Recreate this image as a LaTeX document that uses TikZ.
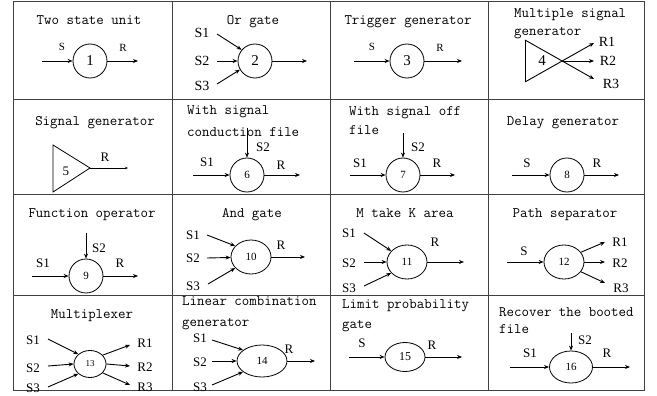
\documentclass[tikz,border=0pt]{standalone}
\usepackage{fontspec}
\setmainfont{Liberation Serif}
\usetikzlibrary{arrows.meta,shapes.geometric}
\tikzset{
  cell/.style    = {line width=1pt, black!75},
  ttl/.style     = {font=\ttfamily\fontsize{14.5}{16}\selectfont, inner sep=0pt,
                    text height=9pt, text depth=3pt},
  lbl/.style     = {font=\fontsize{13}{15}\selectfont, inner sep=0pt},
  lblsmall/.style= {font=\fontsize{11}{13}\selectfont},
  lblbig/.style  = {font=\fontsize{14}{16}\selectfont},
  numbig/.style  = {font=\fontsize{15}{15}\selectfont},
  unit/.style    = {circle, draw, line width=0.8pt, minimum size=34pt, inner sep=0pt,
                    font=\fontsize{11}{13}\selectfont},
  ovl/.style     = {ellipse, draw, line width=0.8pt, minimum width=40pt, minimum height=34pt,
                    inner sep=0pt, font=\fontsize{11}{13}\selectfont},
  wire/.style    = {line width=0.8pt},
  sig/.style     = {-{Stealth[length=5pt,width=4pt]}, line width=0.9pt},
  weak/.style    = {-{Stealth[length=3pt,width=2.5pt]}, line width=0.5pt},
}

\begin{document}
\begin{tikzpicture}[x=1pt,y=-1pt]
  \useasboundingbox (0,0) rectangle (657,396);
  % table
  \draw[cell] (13,2) rectangle (644,390)
    (172,2) -- (172,390) (330,2) -- (330,390) (488,2) -- (488,390)
    (13,100) -- (644,100) (13,194) -- (644,194) (13,295) -- (644,295);

  % row 1
  \node[ttl] (t1) at (89,22) {Two state unit};
  \node[unit,numbig] (u1) at (90,61) {1};
  \coordinate (i1) at (42,61);
  \coordinate (o1) at (138,61);
  \draw[sig] (i1) -- (u1);
  \draw[sig] (u1) -- (o1);
  \node[lbl,lblsmall] (ls1) at (62,47) {S};
  \node[lbl,lblsmall] (lr1) at (123,48) {R};

  \node[ttl] (t2) at (253,22) {Or gate};
  \node[unit,numbig] (u2) at (255,61) {2};
  \node[lbl,lblbig] (ls21) at (202,33) {S1};
  \node[lbl,lblbig] (ls22) at (202,61) {S2};
  \node[lbl,lblbig] (ls23) at (202,86) {S3};
  \coordinate (i21) at (217,34);
  \coordinate (i22) at (217,61);
  \coordinate (i23) at (217,84);
  \coordinate (o2) at (307,61);
  \draw[sig] (i21) -- (u2.140);
  \draw[sig] (i22) -- (u2);
  \draw[sig] (i23) -- (u2.210);
  \draw[sig] (u2) -- (o2);

  \node[ttl] (t3) at (408,22) {Trigger generator};
  \node[unit,numbig] (u3) at (407,61) {3};
  \coordinate (i3) at (354,61);
  \coordinate (o3) at (462,61);
  \draw[sig] (i3) -- (u3);
  \draw[sig] (u3) -- (o3);
  \node[lbl,lblsmall] (ls3) at (372,47) {S};
  \node[lbl,lblsmall] (lr3) at (440,48) {R};

  \node[ttl,anchor=west] (t4a) at (514,15) {Multiple signal};
  \node[ttl,anchor=west] (t4b) at (514,33) {generator};
  \coordinate (g4a) at (525,40);
  \coordinate (g4b) at (525,82);
  \coordinate (g4c) at (562,61);
  \coordinate (e41) at (594,43);
  \coordinate (e42) at (594,61);
  \coordinate (e43) at (594,79);
  \draw[wire] (g4a) -- (g4b);
  \draw[sig] (g4a) -- (e43);
  \draw[sig] (g4b) -- (e41);
  \draw[sig] (g4c) -- (e42);
  \node[lbl,numbig] (n4) at (542,61) {4};
  \node[lbl,lblbig] (lr41) at (607,42) {R1};
  \node[lbl,lblbig] (lr42) at (608,61) {R2};
  \node[lbl,lblbig] (lr43) at (611,84) {R3};

  % row 2
  \node[ttl] (t5) at (95,123) {Signal generator};
  \coordinate (g5a) at (53,145);
  \coordinate (g5b) at (53,192);
  \coordinate (g5c) at (90,168);
  \draw[wire] (g5a) -- (g5b) -- (g5c) -- cycle;
  \node[lbl] (n5) at (66,171) {5};
  \coordinate (o5) at (128,168);
  \draw[weak] (g5c) -- (o5);
  \node[lbl] (lr5) at (105,157) {R};

  \node[ttl,anchor=west] (t6a) at (187,112) {With signal};
  \node[ttl,anchor=west] (t6b) at (187,133) {conduction file};
  \node[unit] (u6) at (247,175) {6};
  \coordinate (i6) at (193,175);
  \coordinate (j6) at (247,128);
  \coordinate (o6) at (300,175);
  \draw[sig] (i6) -- (u6);
  \draw[sig] (j6) -- (u6);
  \draw[sig] (u6) -- (o6);
  \node[lbl] (ls61) at (207,162) {S1};
  \node[lbl] (ls62) at (263,147) {S2};
  \node[lbl] (lr6) at (281,165) {R};

  \node[ttl,anchor=west] (t7a) at (349,113) {With signal off};
  \node[ttl,anchor=west] (t7b) at (349,132) {file};
  \node[unit] (u7) at (403,175) {7};
  \coordinate (i7) at (350,175);
  \coordinate (j7) at (403,133);
  \coordinate (o7) at (455,175);
  \draw[sig] (i7) -- (u7);
  \draw[sig] (j7) -- (u7);
  \draw[sig] (u7) -- (o7);
  \node[lbl] (ls71) at (360,163) {S1};
  \node[lbl] (ls72) at (418,147) {S2};
  \node[lbl] (lr7) at (437,163) {R};

  \node[ttl] (t8) at (563,122) {Delay generator};
  \node[unit] (u8) at (567,175) {8};
  \coordinate (i8) at (512,175);
  \coordinate (o8) at (619,175);
  \draw[sig] (i8) -- (u8);
  \draw[sig] (u8) -- (o8);
  \node[lbl] (ls8) at (527,163) {S};
  \node[lbl] (lr8) at (597,163) {R};

  % row 3
  \node[ttl] (t9) at (92,215) {Function operator};
  \node[unit] (u9) at (86,276) {9};
  \coordinate (i9) at (32,276);
  \coordinate (j9) at (86,233);
  \coordinate (o9) at (138,276);
  \draw[sig] (i9) -- (u9);
  \draw[sig] (j9) -- (u9);
  \draw[sig] (u9) -- (o9);
  \node[lbl] (ls91) at (43,263) {S1};
  \node[lbl] (ls92) at (99,248) {S2};
  \node[lbl] (lr9) at (120,263) {R};

  \node[ttl] (t10) at (252,215) {And gate};
  \node[ovl] (u10) at (251,257) {10};
  \node[lbl] (ls101) at (193,235) {S1};
  \node[lbl] (ls102) at (193,258) {S2};
  \node[lbl] (ls103) at (193,286) {S3};
  \coordinate (i101) at (207,235);
  \coordinate (i102) at (207,258);
  \coordinate (i103) at (208,284);
  \coordinate (o10) at (305,257);
  \draw[sig] (i101) -- (u10.145);
  \draw[sig] (i102) -- (u10);
  \draw[sig] (i103) -- (u10.215);
  \draw[sig] (u10) -- (o10);
  \node[lbl] (lr10) at (281,245) {R};

  \node[ttl] (t11) at (405,215) {M take K area};
  \node[ovl] (u11) at (407,262) {11};
  \node[lbl] (ls111) at (349,233) {S1};
  \node[lbl] (ls112) at (349,263) {S2};
  \node[lbl] (ls113) at (349,288) {S3};
  \coordinate (i111) at (364,233);
  \coordinate (i112) at (364,262);
  \coordinate (i113) at (364,286);
  \coordinate (o11) at (464,262);
  \draw[sig] (i111) -- (u11.145);
  \draw[sig] (i112) -- (u11);
  \draw[sig] (i113) -- (u11.215);
  \draw[sig] (u11) -- (o11);
  \node[lbl] (lr11) at (435,242) {R};

  \node[ttl] (t12) at (565,215) {Path separator};
  \node[ovl] (u12) at (564,262) {12};
  \coordinate (i12) at (507,262);
  \coordinate (o121) at (605,242);
  \coordinate (o122) at (605,262);
  \coordinate (o123) at (605,283);
  \draw[sig] (i12) -- (u12);
  \draw[sig] (u12.30) -- (o121);
  \draw[sig] (u12) -- (o122);
  \draw[sig] (u12.-30) -- (o123);
  \node[lbl] (ls12) at (524,251) {S};
  \node[lbl] (lr121) at (620,242) {R1};
  \node[lbl] (lr122) at (620,263) {R2};
  \node[lbl] (lr123) at (621,288) {R3};

  % row 4
  \node[ttl] (t13) at (92,315) {Multiplexer};
  \node[ovl,minimum width=32pt,minimum height=27pt,font=\fontsize{9}{11}\selectfont]
    (u13) at (90,364) {13};
  \node[lbl] (ls131) at (33,340) {S1};
  \node[lbl] (ls132) at (33,368) {S2};
  \node[lbl] (ls133) at (33,388) {S3};
  \coordinate (i131) at (48,339);
  \coordinate (i132) at (48,366);
  \coordinate (i133) at (48,387);
  \coordinate (o131) at (130,345);
  \coordinate (o132) at (130,366);
  \coordinate (o133) at (130,385);
  \draw[sig] (i131) -- (u13.140);
  \draw[sig] (i132) -- (u13.west);
  \draw[sig] (i133) -- (u13.220);
  \draw[sig] (u13.35) -- (o131);
  \draw[sig] (u13.east) -- (o132);
  \draw[sig] (u13.-35) -- (o133);
  \node[lbl] (lr131) at (145,343) {R1};
  \node[lbl] (lr132) at (145,367) {R2};
  \node[lbl] (lr133) at (145,387) {R3};

  \node[ttl,anchor=west] (t14a) at (182,302) {Linear combination};
  \node[ttl,anchor=west] (t14b) at (182,323) {generator};
  \node[ovl,minimum width=50pt,minimum height=32pt] (u14) at (262,361) {14};
  \node[lbl] (ls141) at (200,338) {S1};
  \node[lbl] (ls142) at (200,362) {S2};
  \node[lbl] (ls143) at (200,387) {S3};
  \coordinate (i141) at (212,340);
  \coordinate (i142) at (212,361);
  \coordinate (i143) at (212,385);
  \coordinate (o14) at (315,361);
  \draw[sig] (i141) -- (u14.150);
  \draw[sig] (i142) -- (u14);
  \draw[sig] (i143) -- (u14.210);
  \draw[sig] (u14) -- (o14);
  \node[lbl] (lr14) at (289,349) {R};

  \node[ttl,anchor=west] (t15a) at (342,305) {Limit probability};
  \node[ttl,anchor=west] (t15b) at (342,325) {gate};
  \node[ovl,minimum width=40pt,minimum height=29pt,font=\fontsize{12}{14}\selectfont]
    (u15) at (405,357) {15};
  \coordinate (i15) at (349,357);
  \coordinate (o15) at (462,357);
  \draw[sig] (i15) -- (u15);
  \draw[sig] (u15) -- (o15);
  \node[lbl] (ls15) at (362,343) {S};
  \node[lbl] (lr15) at (432,345) {R};

  \node[ttl,anchor=west] (t16a) at (499,313) {Recover the booted};
  \node[ttl,anchor=west] (t16b) at (499,330) {file};
  \node[ovl,minimum width=43pt,minimum height=32pt] (u16) at (571,367) {16};
  \coordinate (i16) at (510,367);
  \coordinate (j16) at (571,333);
  \coordinate (o16) at (630,367);
  \draw[sig] (i16) -- (u16);
  \draw[sig] (j16) -- (u16);
  \draw[sig] (u16) -- (o16);
  \node[lbl] (ls161) at (530,353) {S1};
  \node[lbl] (ls162) at (585,340) {S2};
  \node[lbl] (lr16) at (607,353) {R};
\end{tikzpicture}
\end{document}
